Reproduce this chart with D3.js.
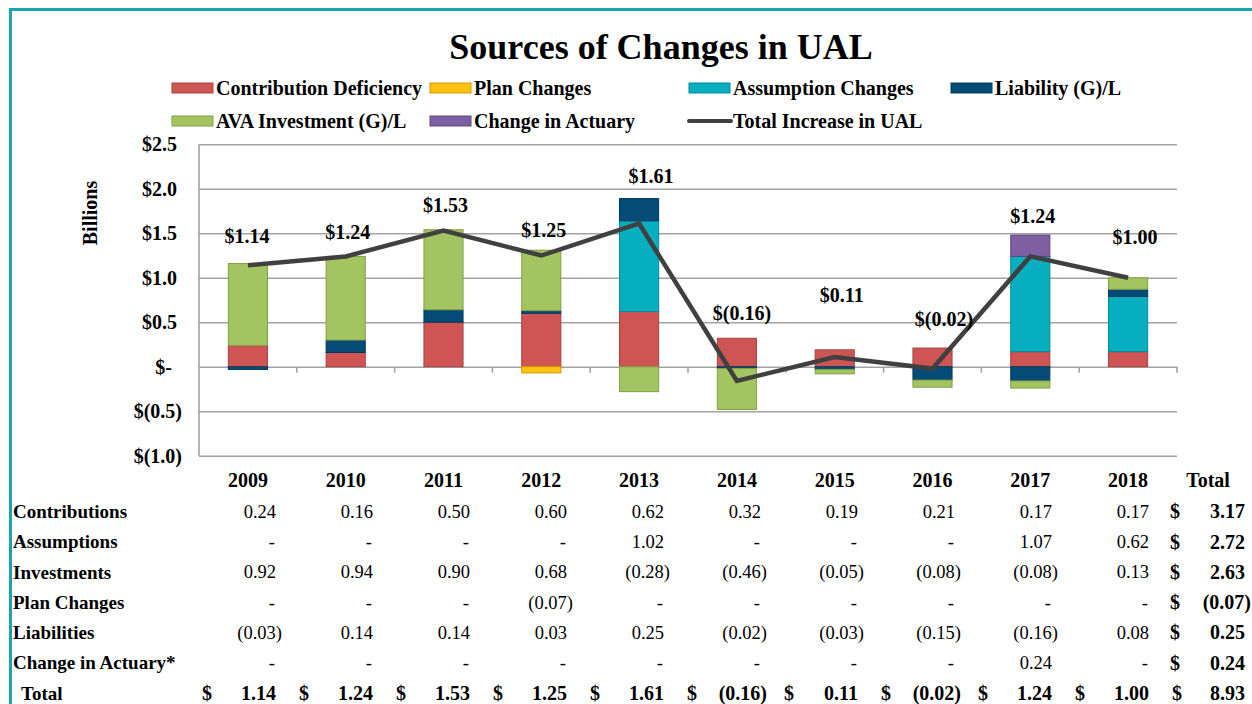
<!DOCTYPE html>
<html>
<head>
<meta charset="utf-8">
<script src="https://cdn.jsdelivr.net/npm/d3@7"></script>
<style>
  html, body { margin: 0; padding: 0; background: #fff; }
  svg { display: block; font-family: "Liberation Serif", "Times New Roman", serif; }
</style>
</head>
<body>
<svg id="chart" width="1252" height="704"></svg>
<script>
// ---- Data (billions of dollars) ----
const years = ["2009", "2010", "2011", "2012", "2013", "2014", "2015", "2016", "2017", "2018"];
const contributions = [0.24, 0.16, 0.50, 0.60, 0.62, 0.32, 0.19, 0.21, 0.17, 0.17];
const assumptions   = [0, 0, 0, 0, 1.02, 0, 0, 0, 1.07, 0.62];
const investments   = [0.92, 0.94, 0.90, 0.68, -0.28, -0.46, -0.05, -0.08, -0.08, 0.13];
const planChanges   = [0, 0, 0, -0.07, 0, 0, 0, 0, 0, 0];
const liabilities   = [-0.03, 0.14, 0.14, 0.03, 0.25, -0.02, -0.03, -0.15, -0.16, 0.08];
const actuaryChange = [0, 0, 0, 0, 0, 0, 0, 0, 0.24, 0];
const totals        = [1.14, 1.24, 1.53, 1.25, 1.61, -0.16, 0.11, -0.02, 1.24, 1.00];
const rowTotals     = [3.17, 2.72, 2.63, -0.07, 0.25, 0.24];
const grandTotal    = 8.93;
const yTicks        = [-1.0, -0.5, 0, 0.5, 1.0, 1.5, 2.0, 2.5];

// Chart series, in stacking order
const series = [
  { name: "Contribution Deficiency", values: contributions, color: "#cf5554", edge: "#a94140" },
  { name: "Plan Changes",            values: planChanges,   color: "#ffc20e", edge: "#d49a00" },
  { name: "Assumption Changes",      values: assumptions,   color: "#08afc1", edge: "#07899a" },
  { name: "Liability (G)/L",         values: liabilities,   color: "#044b78", edge: "#033a5e" },
  { name: "AVA Investment (G)/L",    values: investments,   color: "#a3c460", edge: "#80a046" },
  { name: "Change in Actuary",       values: actuaryChange, color: "#7d5fa2", edge: "#5f4680" }
];
const lineName = "Total Increase in UAL";
const lineColor = "#404040";

// Table rows, in display order
const tableRows = [
  { label: "Contributions",      values: contributions },
  { label: "Assumptions",        values: assumptions },
  { label: "Investments",        values: investments },
  { label: "Plan Changes",       values: planChanges },
  { label: "Liabilities",        values: liabilities },
  { label: "Change in Actuary*", values: actuaryChange }
];

// Nudges for the total labels above the line (px)
const labelDx = [-1, 2, 2, 2.5, 12, 5, 7, 11.5, 2.5, 7];
const labelDy = [-28.5, -24.5, -25.5, -25.5, -47.5, -68, -62, -49.5, -40.5, -40];

// ---- Layout ----
const svg = d3.select("#chart");
const plot = { left: 199, right: 1177, top: 144.3, bottom: 455.7 };
const teal = "#19a3b3";
const gridColor = "#a3a3a3";

const x = d3.scaleBand().domain(years).range([plot.left, plot.right])
  .paddingInner(0.6).paddingOuter(0.3);
const y = d3.scaleLinear().domain([-1, 2.5]).range([plot.bottom, plot.top]);
const cx = d => x(d) + x.bandwidth() / 2;

const money1 = v => v === 0 ? "$-" : (v < 0 ? "$(" + Math.abs(v).toFixed(1) + ")" : "$" + v.toFixed(1));
const money2 = v => v < 0 ? "$(" + Math.abs(v).toFixed(2) + ")" : "$" + v.toFixed(2);
const acct = v => v === 0 ? "-" : (v < 0 ? "(" + Math.abs(v).toFixed(2) + ")" : v.toFixed(2));

// Frame (top and left rule)
svg.append("path")
  .attr("d", `M10.5,1252 V9.5 H1252`)
  .attr("fill", "none").attr("stroke", teal).attr("stroke-width", 3);

// Title
svg.append("text")
  .attr("x", 661).attr("y", 59)
  .attr("text-anchor", "middle")
  .attr("font-size", 36).attr("font-weight", "bold").attr("fill", "#000")
  .text("Sources of Changes in UAL");

// Legend
const legendCols = [172, 430, 689, 951];
const legendRows = [88, 121];
const legendItems = series.map(s => ({ name: s.name, color: s.color, edge: s.edge, type: "bar" }));
legendItems.push({ name: lineName, color: lineColor, type: "line" });
const legend = svg.append("g");
legendItems.forEach((it, i) => {
  const lx = legendCols[i % 4], ly = legendRows[Math.floor(i / 4)];
  const g = legend.append("g").attr("transform", `translate(${lx},${ly})`);
  if (it.type === "bar") {
    g.append("rect").attr("x", 0).attr("y", -5).attr("width", 41).attr("height", 10)
      .attr("fill", it.color).attr("stroke", it.edge).attr("stroke-width", 1);
  } else {
    g.append("line").attr("x1", 0).attr("x2", 42).attr("y1", 0).attr("y2", 0)
      .attr("stroke", it.color).attr("stroke-width", 4).attr("stroke-linecap", "round");
  }
  g.append("text").attr("x", 44).attr("y", 0).attr("dy", "0.33em")
    .attr("font-size", 20).attr("font-weight", "bold").attr("fill", "#000")
    .text(it.name);
});

// Gridlines
svg.append("g")
  .attr("transform", `translate(${plot.left},0)`)
  .call(d3.axisLeft(y).tickValues(yTicks).tickSize(-(plot.right - plot.left)).tickFormat(""))
  .call(g => g.select(".domain").remove())
  .call(g => g.selectAll("line").attr("stroke", gridColor).attr("stroke-width", 1.6));

// Value axis line and labels
svg.append("line")
  .attr("x1", plot.left).attr("x2", plot.left)
  .attr("y1", plot.top).attr("y2", plot.bottom)
  .attr("stroke", gridColor).attr("stroke-width", 1.6);

const yAxis = svg.append("g")
  .attr("transform", `translate(${plot.left},0)`)
  .call(d3.axisLeft(y).tickValues(yTicks).tickSize(0).tickFormat(money1));
yAxis.select(".domain").remove();
yAxis.selectAll("text")
  .attr("font-family", "Liberation Serif, Times New Roman, serif")
  .attr("font-size", 20).attr("font-weight", "bold").attr("fill", "#000")
  .attr("x", d => d === 0 ? -27 : (d < 0 ? -17 : -22))
  .attr("dy", "0.33em");

svg.append("text")
  .attr("transform", "translate(97,213) rotate(-90)")
  .attr("text-anchor", "middle")
  .attr("font-size", 20).attr("font-weight", "bold").attr("fill", "#000")
  .text("Billions");

// Stacked bars (positives stack upward, negatives downward)
const stackRows = years.map((yr, i) => {
  const r = { year: yr };
  series.forEach(s => { r[s.name] = s.values[i]; });
  return r;
});
const stacked = d3.stack()
  .keys(series.map(s => s.name))
  .offset(d3.stackOffsetDiverging)(stackRows);

const bars = svg.append("g");
stacked.forEach((layer, si) => {
  bars.append("g")
    .attr("fill", series[si].color)
    .attr("stroke", series[si].edge)
    .attr("stroke-width", 1)
    .selectAll("rect")
    .data(layer.filter(d => d[1] !== d[0]))
    .join("rect")
    .attr("x", d => x(d.data.year))
    .attr("width", x.bandwidth())
    .attr("y", d => y(Math.max(d[0], d[1])))
    .attr("height", d => Math.abs(y(d[0]) - y(d[1])));
});

// Category tick marks on the zero line
const bounds = years.map(yr => x(yr) + x.bandwidth() / 2 + x.step() / 2);
svg.append("g").selectAll("line").data(bounds).join("line")
  .attr("x1", d => d).attr("x2", d => d)
  .attr("y1", y(0)).attr("y2", y(0) + 6)
  .attr("stroke", gridColor).attr("stroke-width", 1.6);

// Total line
const line = d3.line().x((d, i) => cx(years[i])).y(d => y(d));
svg.append("path")
  .datum(totals)
  .attr("d", line)
  .attr("fill", "none")
  .attr("stroke", lineColor)
  .attr("stroke-width", 4.5)
  .attr("stroke-linejoin", "miter");

// Total labels
svg.append("g").selectAll("text").data(totals).join("text")
  .attr("x", (d, i) => cx(years[i]) + labelDx[i])
  .attr("y", (d, i) => y(d) + labelDy[i])
  .attr("dy", "0.33em")
  .attr("text-anchor", "middle")
  .attr("font-size", 20).attr("font-weight", "bold").attr("fill", "#000")
  .text(d => money2(d));

// ---- Table below the chart ----
const table = svg.append("g");
const headerY = 480;
const rowY = d3.scaleLinear().domain([0, 6]).range([511.7, 693.3]);
const colRight = d3.scaleLinear().domain([0, years.length - 1]).range([276, 1149]);
const colDollar = d3.scaleLinear().domain([0, years.length - 1]).range([202, 1075]);
const totalColDollar = 1170, totalColRight = 1245;
const parenPad = 6;

// Year headers
table.selectAll("text.hdr").data(years).join("text").attr("class", "hdr")
  .attr("x", d => cx(d)).attr("y", headerY).attr("dy", "0.33em")
  .attr("text-anchor", "middle")
  .attr("font-size", 20).attr("font-weight", "bold")
  .text(d => d);
table.append("text")
  .attr("x", 1208).attr("y", headerY).attr("dy", "0.33em")
  .attr("text-anchor", "middle")
  .attr("font-size", 20).attr("font-weight", "bold")
  .text("Total");

const rightFor = (base, v) => v < 0 ? base + parenPad : (v === 0 ? base - 1 : base);

tableRows.forEach((row, ri) => {
  const ry = rowY(ri);
  table.append("text")
    .attr("x", 13).attr("y", ry).attr("dy", "0.33em")
    .attr("font-size", 19).attr("font-weight", "bold")
    .text(row.label);
  table.append("g").selectAll("text").data(row.values).join("text")
    .attr("x", (v, i) => rightFor(colRight(i), v))
    .attr("y", ry).attr("dy", "0.33em")
    .attr("text-anchor", "end")
    .attr("font-size", 18.5)
    .text(v => acct(v));
  table.append("text")
    .attr("x", totalColDollar).attr("y", ry).attr("dy", "0.33em")
    .attr("font-size", 20).attr("font-weight", "bold")
    .text("$");
  table.append("text")
    .attr("x", rightFor(totalColRight, rowTotals[ri])).attr("y", ry).attr("dy", "0.33em")
    .attr("text-anchor", "end")
    .attr("font-size", 20).attr("font-weight", "bold")
    .text(acct(rowTotals[ri]));
});

// Total row
const ty = rowY(6);
table.append("text")
  .attr("x", 21).attr("y", ty).attr("dy", "0.33em")
  .attr("font-size", 19).attr("font-weight", "bold")
  .text("Total");
table.append("g").selectAll("text").data(totals).join("text")
  .attr("x", (v, i) => colDollar(i)).attr("y", ty).attr("dy", "0.33em")
  .attr("font-size", 20).attr("font-weight", "bold")
  .text("$");
table.append("g").selectAll("text").data(totals).join("text")
  .attr("x", (v, i) => rightFor(colRight(i), v)).attr("y", ty).attr("dy", "0.33em")
  .attr("text-anchor", "end")
  .attr("font-size", 20).attr("font-weight", "bold")
  .text(v => acct(v));
table.append("text")
  .attr("x", totalColDollar + 2).attr("y", ty).attr("dy", "0.33em")
  .attr("font-size", 20).attr("font-weight", "bold")
  .text("$");
table.append("text")
  .attr("x", rightFor(totalColRight, grandTotal)).attr("y", ty).attr("dy", "0.33em")
  .attr("text-anchor", "end")
  .attr("font-size", 20).attr("font-weight", "bold")
  .text(acct(grandTotal));
</script>
</body>
</html>
